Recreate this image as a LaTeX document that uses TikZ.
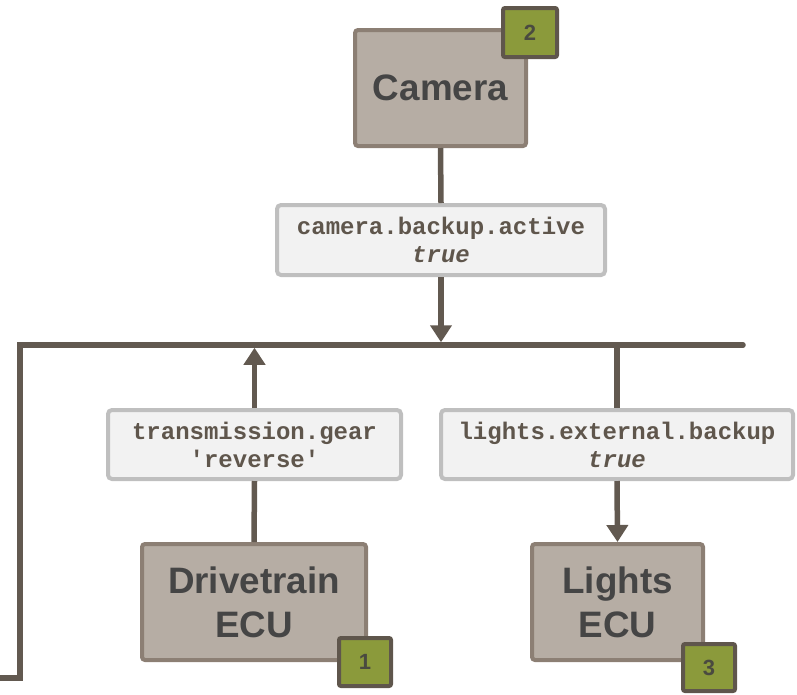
\documentclass[tikz,border=0pt]{standalone}
\usepackage{fontspec}
\setmainfont{Liberation Sans}
\setmonofont{Liberation Mono}
\usetikzlibrary{arrows.meta}

\definecolor{wirec}{HTML}{625950}
\definecolor{ecufill}{HTML}{B6ADA4}
\definecolor{ecudraw}{HTML}{8C7F74}
\definecolor{sigfill}{HTML}{F2F2F2}
\definecolor{sigdraw}{HTML}{BFBFBF}
\definecolor{badgefill}{HTML}{8B9A3B}
\definecolor{badgedraw}{HTML}{5F564C}
\definecolor{ecutext}{HTML}{454545}
\definecolor{sigtext}{HTML}{5F564C}
\definecolor{badgetext}{HTML}{4A4A40}

\tikzset{
  ecu/.style={draw=ecudraw, fill=ecufill, line width=4pt, rounded corners=3pt,
    inner sep=0pt, align=center, text=ecutext,
    font=\bfseries\fontsize{36.8}{44}\selectfont},
  sig/.style={draw=sigdraw, fill=sigfill, line width=4pt, rounded corners=4pt,
    inner sep=0pt, align=center, text=sigtext,
    font=\ttfamily\bfseries\fontsize{24}{28}\selectfont},
  badge/.style={draw=badgedraw, fill=badgefill, line width=4pt, rounded corners=2pt,
    inner sep=0pt, text=badgetext, font=\bfseries\fontsize{22}{26}\selectfont},
  wire/.style={draw=wirec, line width=5.5pt},
  tip/.style={-{Triangle[width=21pt,length=17pt]}}
}

\begin{document}
\begin{tikzpicture}[x=1pt,y=-1pt]
\useasboundingbox (0,0) rectangle (797,694);

% components
\node[ecu, minimum width=171pt, minimum height=116pt] (cam) at (440.5,88) {Camera};
\node[ecu, minimum width=224pt, minimum height=116pt] (drv) at (254,602) {Drivetrain\\ECU};
\node[ecu, minimum width=171pt, minimum height=116pt] (lgt) at (617.5,602) {Lights\\ECU};

% signals
\node[sig, minimum width=328pt, minimum height=70pt] (camsig) at (441,240)
  {camera.backup.active\\\textit{true}};
\node[sig, minimum width=293pt, minimum height=69pt] (gearsig) at (254.5,444.5)
  {transmission.gear\\\symbol{39}reverse\symbol{39}};
\node[sig, minimum width=352pt, minimum height=69pt] (lgtsig) at (617,444.5)
  {lights.external.backup\\\textit{true}};

% step numbers
\node[badge, minimum width=54pt, minimum height=49pt] (n2) at (530,32.5) {2};
\node[badge, minimum width=52pt, minimum height=48pt] (n1) at (365,662) {1};
\node[badge, minimum width=52pt, minimum height=47pt] (n3) at (709,667.5) {3};

% the shared bus
\coordinate (busR) at (743,345);
\coordinate (busL) at (20,345);
\coordinate (busLB) at (20,678);
\coordinate (busOut) at (-8,678);
\draw[wire, line cap=round, line join=miter] (busR) -- (busL) -- (busLB) -- (busOut);

% camera publishes onto the bus
\draw[wire] (cam.south) -- (camsig.north);
\draw[wire, tip, shorten >=2.75pt] (camsig.south) -- (camsig.south |- busL);

% drivetrain publishes the gear
\draw[wire] (drv.north) -- (gearsig.south);
\draw[wire, tip, shorten >=2.75pt] (gearsig.north) -- (gearsig.north |- busL);

% lights subscribe
\draw[wire] (lgtsig.north |- busL) -- (lgtsig.north);
\draw[wire, tip] (lgtsig.south) -- (lgt.north);
\end{tikzpicture}
\end{document}
